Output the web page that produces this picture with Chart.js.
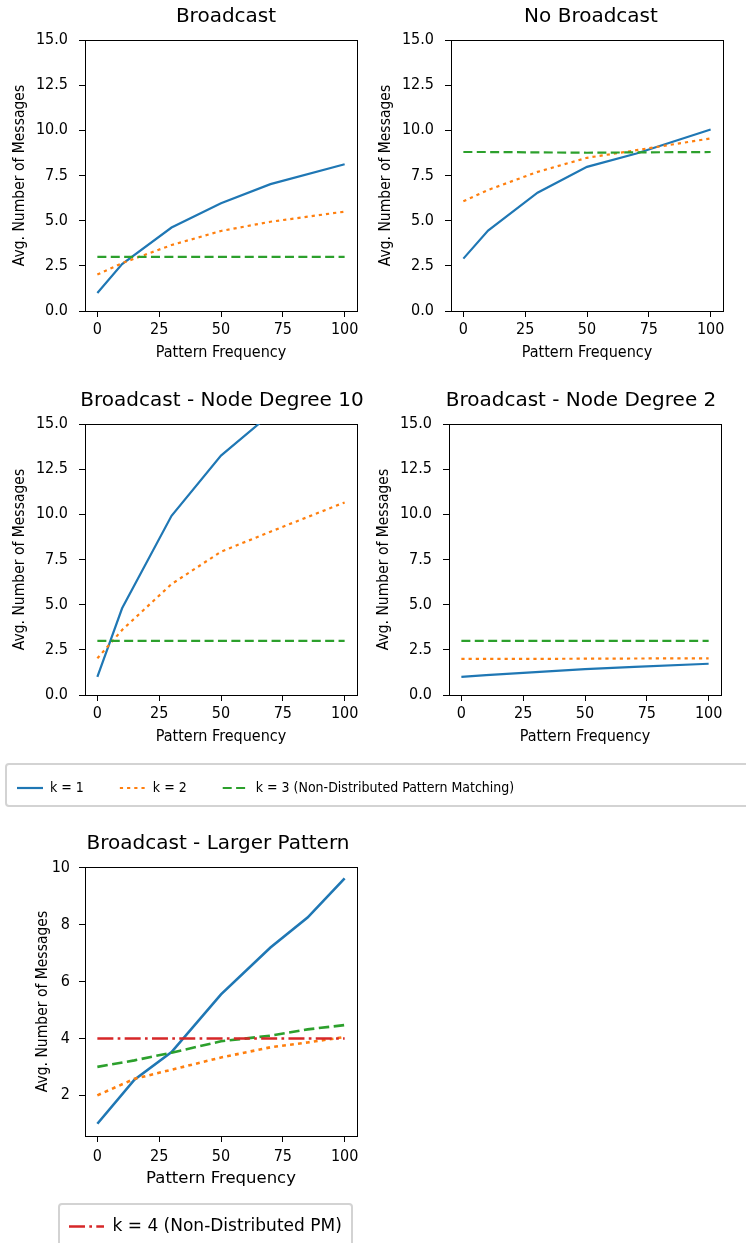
<!DOCTYPE html>
<html>
<head>
<meta charset="utf-8">
<script src="https://cdn.jsdelivr.net/npm/chart.js@4.4.0/dist/chart.umd.min.js"></script>
<style>
    html, body {
        margin: 0;
        padding: 0;
        background: #fff;
        width: 746px;
        height: 1243px;
        overflow: hidden;
        position: relative;
    }
    canvas {
        position: absolute;
    }
    .legend-frame {
        position: absolute;
        border: 2px solid #d3d3d3;
        border-radius: 4px;
        box-sizing: border-box;
    }
</style>
</head>
<body>

<div class="legend-frame" style="left:5px; top:763px; width:750px; height:44px;"></div>
<div class="legend-frame" style="left:58px; top:1203px; width:295px; height:60px;"></div>

<canvas id="broadcast"></canvas>
<canvas id="noBroadcast"></canvas>
<canvas id="degree10"></canvas>
<canvas id="degree2"></canvas>
<canvas id="legendTop"></canvas>
<canvas id="largerPattern"></canvas>
<canvas id="legendBottom"></canvas>

<script>
    // x positions (pattern frequency) and tick values
    const freq = [0, 10, 30, 50, 70, 100];
    const freqLarge = [0, 15, 30, 50, 70, 85, 100];
    const xTicks = [0, 25, 50, 75, 100];
    const yTicks = [0, 2.5, 5, 7.5, 10, 12.5, 15];
    const yTicksLarge = [2, 4, 6, 8, 10];

    // Broadcast
    const bcK1 = [1.0, 2.6, 4.62, 5.97, 7.02, 8.12];
    const bcK2 = [2.02, 2.65, 3.65, 4.43, 4.94, 5.5];
    const bcK3 = [3.0, 3.0, 3.0, 3.0, 3.0, 3.0];

    // No Broadcast
    const nbK1 = [2.9, 4.45, 6.55, 7.98, 8.72, 10.05];
    const nbK2 = [6.07, 6.7, 7.7, 8.48, 8.9, 9.55];
    const nbK3 = [8.8, 8.8, 8.78, 8.76, 8.78, 8.8];

    // Broadcast - Node Degree 10
    const d10K1 = [1.0, 4.8, 9.92, 13.25, 15.55, 19.0];
    const d10K2 = [2.03, 3.6, 6.14, 7.93, 9.04, 10.66];
    const d10K3 = [3.0, 3.0, 3.0, 3.0, 3.0, 3.0];

    // Broadcast - Node Degree 2
    const d2K1 = [1.0, 1.1, 1.27, 1.43, 1.56, 1.73];
    const d2K2 = [2.0, 2.0, 2.0, 2.01, 2.02, 2.03];
    const d2K3 = [3.0, 3.0, 3.0, 3.0, 3.0, 3.0];

    // Broadcast - Larger Pattern
    const lpK1 = [1.0, 2.55, 3.52, 5.55, 7.2, 8.25, 9.63];
    const lpK2 = [2.0, 2.58, 2.9, 3.33, 3.69, 3.86, 4.05];
    const lpK3 = [3.0, 3.23, 3.5, 3.9, 4.1, 4.32, 4.47];
    const lpK4 = [4.0, 4.0, 4.0, 4.0, 4.0, 4.0, 4.0];

    const BLUE = '#1f77b4', ORANGE = '#ff7f0e', GREEN = '#2ca02c', RED = '#d62728';
    const SANS = "'DejaVu Sans', sans-serif";
    const COND = "'DejaVu Sans Condensed', 'DejaVu Sans', sans-serif";

    const thin = {width: 2.2, dashed: [9, 4.4], dotted: [3.2, 4], dashdot: [16, 4.3, 2.7, 4.3]};
    const wide = {width: 2.6, dashed: [10.5, 4.5], dotted: [3.8, 4.2], dashdot: [16, 4.3, 2.7, 4.3]};

    function kStyles(st) {
        return [
            {label: 'k = 1', borderColor: BLUE, borderWidth: st.width, borderDash: []},
            {label: 'k = 2', borderColor: ORANGE, borderWidth: st.width, borderDash: st.dotted},
            {label: 'k = 3 (Non-Distributed Pattern Matching)', borderColor: GREEN, borderWidth: st.width, borderDash: st.dashed},
            {label: 'k = 4 (Non-Distributed PM)', borderColor: RED, borderWidth: st.width, borderDash: st.dashdot}
        ];
    }

    function series(xs, lists, st) {
        const styles = kStyles(st);
        return lists.map((ys, i) => Object.assign({
            data: xs.map((x, j) => ({x: x, y: ys[j]})),
            backgroundColor: 'transparent',
            fill: false,
            order: 10 - i
        }, styles[i]));
    }

    // one subplot; area = [left, top, right, bottom] of the plotting box
    function panel(id, p) {
        const left = p.area[0] - 85;
        const top = p.area[1] - 35;
        const width = 2 * (p.titleX - left);
        const height = p.area[3] + 60 - top;
        const rightW = width - (p.area[2] - left);

        const cv = document.getElementById(id);
        cv.width = width;
        cv.height = height;
        cv.style.left = left + 'px';
        cv.style.top = top + 'px';

        const spine = {color: '#000', width: 1};
        const tickFont = {family: COND, size: 16};

        new Chart(cv, {
            type: 'line',
            data: {datasets: p.datasets},
            options: {
                responsive: false,
                animation: false,
                devicePixelRatio: 1,
                events: [],
                layout: {padding: 0},
                elements: {point: {radius: 0}, line: {tension: 0}},
                plugins: {
                    legend: {display: false},
                    tooltip: {enabled: false},
                    title: {
                        display: true,
                        text: p.title,
                        color: '#000',
                        font: {family: SANS, size: 20, weight: 'normal'},
                        padding: {top: 0, bottom: 11}
                    }
                },
                scales: {
                    x: {
                        type: 'linear',
                        position: 'bottom',
                        min: -5,
                        max: 105,
                        afterBuildTicks: s => { s.ticks = xTicks.map(v => ({value: v})); },
                        afterFit: s => { s.height = 60; },
                        grid: {drawOnChartArea: false, tickLength: 6, tickColor: '#000', tickWidth: 1},
                        border: spine,
                        ticks: {color: '#000', font: tickFont, padding: p.xTickPad, maxRotation: 0,
                                callback: v => String(v)},
                        title: {display: true, text: 'Pattern Frequency', color: '#000',
                                font: p.xTitleFont, padding: {top: 0, bottom: p.xTitlePad}}
                    },
                    y: {
                        type: 'linear',
                        position: 'left',
                        min: p.yMin,
                        max: p.yMax,
                        afterBuildTicks: s => { s.ticks = p.yTicks.map(v => ({value: v})); },
                        afterFit: s => { s.width = 85; },
                        grid: {drawOnChartArea: false, tickLength: 6, tickColor: '#000', tickWidth: 1},
                        border: spine,
                        ticks: {color: '#000', font: tickFont, padding: p.yTickPad, callback: p.yFormat},
                        title: {display: true, text: 'Avg. Number of Messages', color: '#000',
                                font: {family: COND, size: 15.5}, padding: {top: p.yTitlePad, bottom: 0}}
                    },
                    x2: {
                        type: 'linear',
                        position: 'top',
                        min: -5,
                        max: 105,
                        grid: {display: false},
                        ticks: {display: false},
                        border: spine,
                        afterFit: s => { s.height = 0; }
                    },
                    y2: {
                        type: 'linear',
                        position: 'right',
                        min: 0,
                        max: 1,
                        grid: {display: false},
                        ticks: {display: false},
                        border: spine,
                        afterFit: s => { s.width = rightW; }
                    }
                }
            }
        });
    }

    // legend-only chart; line samples take dash and width from the dataset
    function legendStrip(id, left, top, width, height, styles, font, boxW, pad) {
        const cv = document.getElementById(id);
        cv.width = width;
        cv.height = height;
        cv.style.left = left + 'px';
        cv.style.top = top + 'px';
        new Chart(cv, {
            type: 'line',
            data: {datasets: styles.map(s => Object.assign({data: [], pointStyle: 'line', backgroundColor: 'transparent'}, s))},
            options: {
                responsive: false,
                animation: false,
                devicePixelRatio: 1,
                events: [],
                layout: {padding: 0},
                scales: {x: {display: false}, y: {display: false}},
                plugins: {
                    tooltip: {enabled: false},
                    legend: {
                        display: true,
                        position: 'top',
                        align: 'start',
                        labels: {
                            usePointStyle: true,
                            pointStyleWidth: boxW,
                            padding: pad,
                            color: '#000',
                            font: font,
                            generateLabels: chart => {
                                const items = Chart.defaults.plugins.legend.labels.generateLabels(chart);
                                return items.map(item => {
                                    const ds = chart.data.datasets[item.datasetIndex];
                                    item.lineDash = ds.borderDash;
                                    item.lineWidth = ds.borderWidth;
                                    item.strokeStyle = ds.borderColor;
                                    item.lineCap = 'butt';
                                    return item;
                                });
                            }
                        }
                    }
                }
            }
        });
    }

    const fmt1 = v => v.toFixed(1);
    const topCommon = {
        yMin: 0, yMax: 15, yTicks: yTicks, yFormat: fmt1,
        xTickPad: 3, yTickPad: 11, xTitlePad: 8.9, yTitlePad: 10.4,
        xTitleFont: {family: COND, size: 16}
    };

    panel('broadcast', Object.assign({}, topCommon, {
        area: [85, 40, 357, 311], titleX: 226, title: 'Broadcast',
        datasets: series(freq, [bcK1, bcK2, bcK3], thin)
    }));
    panel('noBroadcast', Object.assign({}, topCommon, {
        area: [451, 40, 723, 311], titleX: 591, title: 'No Broadcast',
        datasets: series(freq, [nbK1, nbK2, nbK3], thin)
    }));
    panel('degree10', Object.assign({}, topCommon, {
        area: [85, 424, 357, 695], titleX: 222, title: 'Broadcast - Node Degree 10',
        datasets: series(freq, [d10K1, d10K2, d10K3], thin)
    }));
    panel('degree2', Object.assign({}, topCommon, {
        area: [449, 424, 721, 695], titleX: 581, title: 'Broadcast - Node Degree 2',
        datasets: series(freq, [d2K1, d2K2, d2K3], thin)
    }));
    panel('largerPattern', {
        area: [85, 867, 357, 1136], titleX: 218, title: 'Broadcast - Larger Pattern',
        yMin: 0.57, yMax: 10.03, yTicks: yTicksLarge, yFormat: v => String(v),
        xTickPad: 5, yTickPad: 9, xTitlePad: 6.9, yTitlePad: 33.7,
        xTitleFont: {family: SANS, size: 16.5},
        datasets: series(freqLarge, [lpK1, lpK2, lpK3, lpK4], wide)
    });

    legendStrip('legendTop', -19, 745, 780, 110, kStyles(thin).slice(0, 3),
        {family: COND, size: 14}, 26, 36);
    legendStrip('legendBottom', 59, 1208, 300, 60, kStyles(wide).slice(3),
        {family: SANS, size: 17}, 35, 10);
</script>
</body>
</html>
